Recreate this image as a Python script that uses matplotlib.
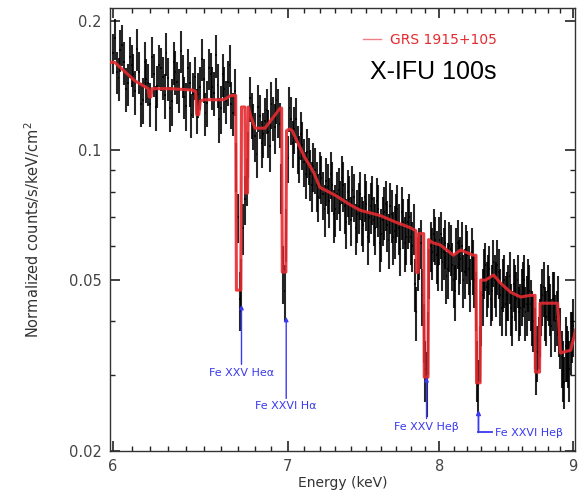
import matplotlib
matplotlib.use("Agg")
import matplotlib.pyplot as plt
from matplotlib.ticker import MultipleLocator, FixedLocator, NullFormatter
from matplotlib.lines import Line2D

# Spectrum bins (keV), normalized counts and 1-sigma errors (even bins)
energy_a = [
    6.00, 6.02, 6.04, 6.06, 6.08, 6.10, 6.12, 6.14, 6.16, 6.18,
    6.20, 6.22, 6.24, 6.26, 6.28, 6.30, 6.32, 6.34, 6.36, 6.38,
    6.40, 6.42, 6.44, 6.46, 6.48, 6.50, 6.52, 6.54, 6.56, 6.58,
    6.60, 6.62, 6.64, 6.66, 6.68, 6.70, 6.72, 6.74, 6.76, 6.78,
    6.80, 6.82, 6.84, 6.86, 6.88, 6.90, 6.92, 6.94, 6.96, 6.98,
    7.00, 7.02, 7.04, 7.06, 7.08, 7.10, 7.12, 7.14, 7.16, 7.18,
    7.20, 7.22, 7.24, 7.26, 7.28, 7.30, 7.32, 7.34, 7.36, 7.38,
    7.40, 7.42, 7.44, 7.46, 7.48, 7.50, 7.52, 7.54, 7.56, 7.58,
    7.60, 7.62, 7.64, 7.66, 7.68, 7.70, 7.72, 7.74, 7.76, 7.78,
    7.80, 7.82, 7.84, 7.86, 7.88, 7.90, 7.92, 7.94, 7.96, 7.98,
    8.00, 8.02, 8.04, 8.06, 8.08, 8.10, 8.12, 8.14, 8.16, 8.18,
    8.20, 8.22, 8.24, 8.26, 8.28, 8.30, 8.32, 8.34, 8.36, 8.38,
    8.40, 8.42, 8.44, 8.46, 8.48, 8.50, 8.52, 8.54, 8.56, 8.58,
    8.60, 8.62, 8.64, 8.66, 8.68, 8.70, 8.72, 8.74, 8.76, 8.78,
    8.80, 8.82, 8.84, 8.86, 8.88, 8.90, 8.92, 8.94, 8.96, 8.98,
    9.00,
]
counts_a = [
    0.168, 0.152, 0.171, 0.160, 0.143, 0.158, 0.137, 0.152, 0.131, 0.146,
    0.128, 0.150, 0.141, 0.155, 0.134, 0.147, 0.130, 0.152, 0.138, 0.149,
    0.127, 0.143, 0.135, 0.124, 0.140, 0.146, 0.129, 0.150, 0.136, 0.142,
    0.125, 0.139, 0.144, 0.128, 0.137, 0.070, 0.049, 0.077, 0.098, 0.121,
    0.108, 0.126, 0.104, 0.117, 0.110, 0.128, 0.113, 0.123, 0.082, 0.047,
    0.096, 0.118, 0.112, 0.101, 0.109, 0.094, 0.099, 0.088, 0.092, 0.083,
    0.088, 0.079, 0.085, 0.076, 0.083, 0.073, 0.081, 0.086, 0.074, 0.080,
    0.069, 0.078, 0.071, 0.079, 0.067, 0.075, 0.070, 0.077, 0.066, 0.073,
    0.064, 0.072, 0.067, 0.074, 0.063, 0.070, 0.066, 0.072, 0.061, 0.068,
    0.063, 0.066, 0.042, 0.058, 0.046, 0.031, 0.036, 0.060, 0.064, 0.057,
    0.062, 0.055, 0.061, 0.053, 0.059, 0.050, 0.058, 0.054, 0.060, 0.052,
    0.057, 0.049, 0.054, 0.045, 0.0285, 0.041, 0.052, 0.048, 0.053, 0.047,
    0.050, 0.054, 0.046, 0.049, 0.044, 0.047, 0.043, 0.049, 0.045, 0.042,
    0.046, 0.050, 0.044, 0.047, 0.041, 0.037, 0.034, 0.039, 0.046, 0.042,
    0.047, 0.043, 0.045, 0.040, 0.044, 0.037, 0.031, 0.035, 0.033, 0.036,
    0.039,
]
errors_a = [
    0.018, 0.017, 0.019, 0.018, 0.016, 0.018, 0.016, 0.017, 0.016, 0.017,
    0.015, 0.017, 0.016, 0.018, 0.016, 0.017, 0.016, 0.018, 0.016, 0.017,
    0.016, 0.017, 0.016, 0.015, 0.016, 0.017, 0.016, 0.018, 0.016, 0.017,
    0.016, 0.017, 0.017, 0.016, 0.017, 0.009, 0.007, 0.010, 0.012, 0.015,
    0.014, 0.016, 0.013, 0.015, 0.014, 0.016, 0.015, 0.016, 0.011, 0.007,
    0.012, 0.015, 0.014, 0.013, 0.014, 0.012, 0.013, 0.012, 0.012, 0.011,
    0.011, 0.010, 0.011, 0.010, 0.011, 0.010, 0.010, 0.011, 0.010, 0.010,
    0.009, 0.010, 0.010, 0.010, 0.009, 0.010, 0.009, 0.010, 0.009, 0.010,
    0.009, 0.010, 0.009, 0.010, 0.009, 0.009, 0.009, 0.010, 0.009, 0.009,
    0.009, 0.009, 0.006, 0.008, 0.007, 0.005, 0.006, 0.008, 0.009, 0.008,
    0.008, 0.008, 0.008, 0.008, 0.008, 0.007, 0.008, 0.008, 0.008, 0.007,
    0.008, 0.007, 0.008, 0.007, 0.004, 0.006, 0.007, 0.007, 0.007, 0.007,
    0.007, 0.008, 0.007, 0.007, 0.007, 0.007, 0.006, 0.007, 0.007, 0.006,
    0.007, 0.007, 0.007, 0.007, 0.006, 0.006, 0.005, 0.006, 0.007, 0.006,
    0.007, 0.006, 0.007, 0.006, 0.007, 0.006, 0.005, 0.006, 0.005, 0.006,
    0.006,
]

# Odd bins of the same spectrum
energy_b = [
    6.01, 6.03, 6.05, 6.07, 6.09, 6.11, 6.13, 6.15, 6.17, 6.19,
    6.21, 6.23, 6.25, 6.27, 6.29, 6.31, 6.33, 6.35, 6.37, 6.39,
    6.41, 6.43, 6.45, 6.47, 6.49, 6.51, 6.53, 6.55, 6.57, 6.59,
    6.61, 6.63, 6.65, 6.67, 6.69, 6.71, 6.73, 6.75, 6.77, 6.79,
    6.81, 6.83, 6.85, 6.87, 6.89, 6.91, 6.93, 6.95, 6.97, 6.99,
    7.01, 7.03, 7.05, 7.07, 7.09, 7.11, 7.13, 7.15, 7.17, 7.19,
    7.21, 7.23, 7.25, 7.27, 7.29, 7.31, 7.33, 7.35, 7.37, 7.39,
    7.41, 7.43, 7.45, 7.47, 7.49, 7.51, 7.53, 7.55, 7.57, 7.59,
    7.61, 7.63, 7.65, 7.67, 7.69, 7.71, 7.73, 7.75, 7.77, 7.79,
    7.81, 7.83, 7.85, 7.87, 7.89, 7.91, 7.93, 7.95, 7.97, 7.99,
    8.01, 8.03, 8.05, 8.07, 8.09, 8.11, 8.13, 8.15, 8.17, 8.19,
    8.21, 8.23, 8.25, 8.27, 8.29, 8.31, 8.33, 8.35, 8.37, 8.39,
    8.41, 8.43, 8.45, 8.47, 8.49, 8.51, 8.53, 8.55, 8.57, 8.59,
    8.61, 8.63, 8.65, 8.67, 8.69, 8.71, 8.73, 8.75, 8.77, 8.79,
    8.81, 8.83, 8.85, 8.87, 8.89, 8.91, 8.93, 8.95, 8.97, 8.99,
]
counts_b = [
    0.182, 0.147, 0.176, 0.139, 0.165, 0.150, 0.172, 0.128, 0.160, 0.143,
    0.165, 0.126, 0.158, 0.148, 0.168, 0.125, 0.160, 0.144, 0.170, 0.133,
    0.155, 0.121, 0.148, 0.135, 0.163, 0.122, 0.155, 0.140, 0.166, 0.118,
    0.150, 0.130, 0.158, 0.122, 0.092, 0.045, 0.066, 0.085, 0.132, 0.114,
    0.098, 0.120, 0.109, 0.124, 0.102, 0.119, 0.131, 0.115, 0.052, 0.064,
    0.125, 0.104, 0.118, 0.096, 0.103, 0.088, 0.095, 0.083, 0.090, 0.078,
    0.086, 0.073, 0.082, 0.088, 0.071, 0.079, 0.075, 0.083, 0.068, 0.077,
    0.081, 0.066, 0.074, 0.069, 0.078, 0.063, 0.074, 0.069, 0.076, 0.061,
    0.069, 0.075, 0.062, 0.071, 0.065, 0.073, 0.059, 0.068, 0.063, 0.070,
    0.060, 0.049, 0.055, 0.061, 0.038, 0.029, 0.052, 0.058, 0.062, 0.054,
    0.064, 0.058, 0.051, 0.060, 0.054, 0.047, 0.061, 0.056, 0.050, 0.059,
    0.053, 0.058, 0.050, 0.031, 0.034, 0.046, 0.054, 0.050, 0.045, 0.055,
    0.048, 0.052, 0.043, 0.050, 0.046, 0.051, 0.041, 0.047, 0.050, 0.043,
    0.048, 0.042, 0.049, 0.044, 0.040, 0.032, 0.036, 0.043, 0.048, 0.041,
    0.045, 0.039, 0.046, 0.041, 0.038, 0.033, 0.029, 0.034, 0.031, 0.037,
]
errors_b = [
    0.020, 0.017, 0.019, 0.016, 0.018, 0.017, 0.019, 0.015, 0.018, 0.016,
    0.018, 0.015, 0.018, 0.017, 0.019, 0.015, 0.018, 0.016, 0.019, 0.015,
    0.017, 0.014, 0.017, 0.016, 0.018, 0.014, 0.017, 0.016, 0.019, 0.014,
    0.017, 0.015, 0.018, 0.014, 0.012, 0.007, 0.009, 0.011, 0.016, 0.014,
    0.012, 0.014, 0.013, 0.015, 0.013, 0.014, 0.016, 0.014, 0.008, 0.009,
    0.015, 0.013, 0.014, 0.012, 0.013, 0.011, 0.012, 0.011, 0.011, 0.010,
    0.011, 0.010, 0.011, 0.011, 0.010, 0.010, 0.010, 0.011, 0.009, 0.010,
    0.011, 0.009, 0.010, 0.009, 0.010, 0.009, 0.010, 0.009, 0.010, 0.009,
    0.009, 0.010, 0.009, 0.010, 0.009, 0.010, 0.008, 0.009, 0.009, 0.009,
    0.008, 0.007, 0.008, 0.008, 0.006, 0.005, 0.007, 0.008, 0.008, 0.007,
    0.008, 0.008, 0.007, 0.008, 0.007, 0.007, 0.008, 0.007, 0.007, 0.008,
    0.007, 0.008, 0.007, 0.005, 0.005, 0.007, 0.007, 0.007, 0.006, 0.007,
    0.007, 0.007, 0.006, 0.007, 0.006, 0.007, 0.006, 0.007, 0.007, 0.006,
    0.007, 0.006, 0.007, 0.006, 0.006, 0.005, 0.005, 0.006, 0.007, 0.006,
    0.006, 0.006, 0.006, 0.006, 0.005, 0.005, 0.004, 0.005, 0.005, 0.005,
]

# Best-fit model with Fe absorption lines
model_energy = [
    5.98, 6.01, 6.117, 6.190, 6.195, 6.205, 6.210, 6.308, 6.434, 6.455,
    6.460, 6.472, 6.480, 6.501, 6.617, 6.658, 6.686, 6.690, 6.716, 6.720,
    6.740, 6.744, 6.756, 6.760, 6.775, 6.800, 6.861, 6.953, 6.962, 6.966,
    6.988, 6.992, 7.010, 7.027, 7.052, 7.100, 7.160, 7.200, 7.300, 7.400,
    7.460, 7.594, 7.700, 7.800, 7.836, 7.840, 7.852, 7.856, 7.890, 7.894,
    7.920, 7.924, 7.950, 8.007, 8.099, 8.150, 8.244, 8.262, 8.266, 8.292,
    8.296, 8.332, 8.391, 8.443, 8.517, 8.593, 8.669, 8.703, 8.706, 8.738,
    8.742, 8.878, 8.900, 8.981, 9.02,
]
model_counts = [
    0.160, 0.160, 0.145, 0.139, 0.133, 0.133, 0.139, 0.139, 0.138, 0.137,
    0.121, 0.121, 0.130, 0.131, 0.131, 0.134, 0.134, 0.0473, 0.0473, 0.126,
    0.126, 0.0795, 0.0795, 0.126, 0.120, 0.1125, 0.1125, 0.1252, 0.1252, 0.0521,
    0.0521, 0.111, 0.112, 0.111, 0.106, 0.097, 0.089, 0.082, 0.0785, 0.0745,
    0.0725, 0.0705, 0.068, 0.066, 0.065, 0.052, 0.052, 0.064, 0.064, 0.0297,
    0.0297, 0.062, 0.061, 0.0602, 0.057, 0.0586, 0.057, 0.057, 0.0288, 0.0288,
    0.0499, 0.0499, 0.0513, 0.0491, 0.0468, 0.0456, 0.0460, 0.0460, 0.0305, 0.0305,
    0.0441, 0.0441, 0.0338, 0.0343, 0.0382,
]

# Line identifications: label, energy, arrow tip, arrow tail, text position
line_labels = ["Fe XXV He\u03b1", "Fe XXVI H\u03b1", "Fe XXV He\u03b2"]
line_energy = [6.72, 6.99, 7.91]
arrow_tip = [0.0437, 0.0410, 0.0297]
arrow_tail = [0.0318, 0.0265, 0.0238]
label_y = [0.0303, 0.0254, 0.0227]

red = "#e52a2f"
blue = "#3a3aee"

fig = plt.figure(figsize=(5.78, 4.92), dpi=100)
ax = fig.add_axes([110 / 578, 41 / 492, 465 / 578, 443 / 492])
ax.set_xscale("log")
ax.set_yscale("log")

energy = energy_a + energy_b
counts = counts_a + counts_b
errors = errors_a + errors_b
ax.errorbar(energy, counts, yerr=errors, xerr=0.005, fmt="none",
            ecolor="black", elinewidth=1.5, capsize=0, alpha=0.85, zorder=2)
ax.plot(model_energy, model_counts, color=red, lw=2.2, alpha=0.9, zorder=3)

for lab, e, tip, tail, ly in zip(line_labels, line_energy, arrow_tip, arrow_tail, label_y):
    ax.annotate("", xy=(e, tip), xytext=(e, tail),
                arrowprops=dict(arrowstyle="-|>", color=blue, lw=1.0,
                                mutation_scale=6, shrinkA=0, shrinkB=0))
    ax.text(e, ly, lab, color=blue, fontsize=8, ha="center", va="center")

# Fe XXVI Ly-beta with an elbow arrow
ax.plot([8.28, 8.383], [0.0221, 0.0221], color=blue, lw=1.3)
ax.annotate("", xy=(8.28, 0.0249), xytext=(8.28, 0.0221),
            arrowprops=dict(arrowstyle="-|>", color=blue, lw=1.3,
                            mutation_scale=6, shrinkA=0, shrinkB=0))
ax.text(8.405, 0.0220, "Fe XXVI He\u03b2", color=blue, fontsize=8,
        ha="left", va="center")

ax.set_xlim(5.985, 9.015)
ax.set_ylim(0.02, 0.214)

ax.xaxis.set_minor_locator(MultipleLocator(0.1))
ax.xaxis.set_minor_formatter(NullFormatter())
ax.set_xticks([6, 7, 8, 9], labels=["6", "7", "8", "9"])
ax.yaxis.set_minor_locator(FixedLocator([0.03, 0.04, 0.06, 0.07, 0.08, 0.09]))
ax.yaxis.set_minor_formatter(NullFormatter())
ax.set_yticks([0.02, 0.05, 0.1, 0.2], labels=["0.02", "0.05", "0.1", "0.2"])

ax.tick_params(which="both", direction="in", top=True, right=True,
               colors="#222222", labelcolor="#444444", labelsize=10.5)
ax.tick_params(which="major", length=7, width=1.2, pad=6)
ax.tick_params(which="minor", length=3.5, width=1.0)
for s in ax.spines.values():
    s.set_color("#333333")
    s.set_linewidth(1.0)

ax.set_xlabel("Energy (keV)", fontsize=10, color="#333333")
ax.set_ylabel("Normalized counts/s/keV/cm$^2$", fontsize=10.5, color="#333333")
ax.xaxis.set_label_coords(0.5, -(483 - 451) / 443)
ax.xaxis.label.set_va("center")
ax.yaxis.set_label_coords(-(110 - 32) / 465, 0.5)
ax.yaxis.label.set_va("center")

proxy = Line2D([], [], color="#f08088", lw=1.0)
ax.legend([proxy], ["GRS 1915+105"], loc="center left",
          bbox_to_anchor=(0.545, 0.928), frameon=False, fontsize=10,
          labelcolor=red, handlelength=1.3, handletextpad=0.6,
          borderaxespad=0, borderpad=0)

ax.text(0.696, 0.840, "X-IFU 100s", transform=ax.transAxes, fontsize=18,
        family="Liberation Sans", ha="center", va="baseline", color="black")

fig.savefig("out.png", dpi=100)
